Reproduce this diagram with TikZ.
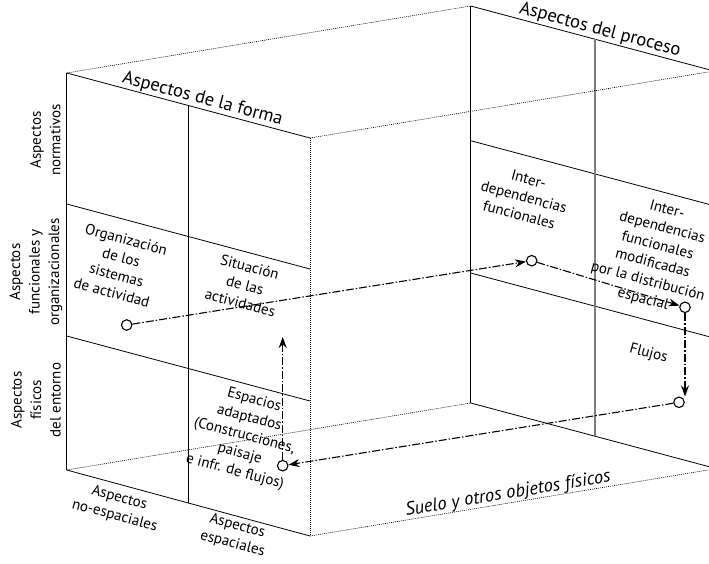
\documentclass[tikz,border=0pt]{standalone}
\usepackage{fontspec}
\setmainfont{PT Sans}
\definecolor{cbGray}{RGB}{125, 125, 125}
\usetikzlibrary{arrows.meta}
\tikzset{
  cubeedge/.style={line width=0.8pt, black},
  hiddenedge/.style={line width=0.6pt, black, dash pattern=on 1pt off 1pt},
  procline/.style={line width=1.2pt, cbGray},
  celltext/.style={font=\fontsize{15}{18.5}\selectfont, align=center, inner sep=0pt, rotate=-15},
  titletext/.style={font=\fontsize{18.5}{22}\selectfont, align=center, inner sep=0pt, rotate=#1},
  titletext/.default=-15,
  floortext/.style={font=\fontsize{18.5}{22}\selectfont\itshape, align=center, inner sep=0pt, rotate=9.4},
  rowtext/.style={font=\fontsize{15}{19.5}\selectfont, align=center, inner sep=0pt, rotate=90},
  marker/.style={circle, draw, line width=1.1pt, fill=white, minimum size=10.5pt, inner sep=0pt},
  flowarrow/.style={-{Stealth[length=11pt, width=8pt]}, line width=1.1pt, dash pattern=on 8pt off 2pt on 1.5pt off 2pt},
}

\begin{document}
\begin{tikzpicture}[x=1pt, y=-1pt]
  \useasboundingbox (0,0) rectangle (709,563);

  % Front face
  \draw[cubeedge] (66.7,73) -- (66.7,470);
  \draw[cubeedge] (66.7,73) -- (310,138);
  \draw[cubeedge] (66.7,204) -- (310,269);
  \draw[cubeedge] (66.7,336) -- (310,401);
  \draw[cubeedge] (66.7,470) -- (310,536);
  \draw[cubeedge] (188.7,105.6) -- (188.7,502.6);
  \draw[hiddenedge] (310,138) -- (310,536);

  % Back face
  \draw[cubeedge] (470.7,6) -- (470.7,403);
  \draw[cubeedge] (470.7,6) -- (714,71);
  \draw[cubeedge] (470.7,140.7) -- (714,205.7);
  \draw[cubeedge] (470.7,273) -- (714,338);
  \draw[cubeedge] (470.7,403) -- (714,468);
  \draw[procline] (595,39.2) -- (595,436.2);

  % Depth edges
  \draw[hiddenedge] (66.7,73) -- (470.7,6);
  \draw[hiddenedge] (310,138) -- (714,71);
  \draw[hiddenedge] (66.7,470) -- (470.7,403);
  \draw[hiddenedge] (310,536) -- (714,469);

  % Axis labels
  \node[titletext] (forma) at (202.5,99) {Aspectos de la forma};
  \node[titletext] (proceso) at (600,30) {Aspectos del proceso};
  \node[rowtext] (normativos) at (45.5,140) {Aspectos\\normativos};
  \node[rowtext] (funcionales) at (36,272) {Aspectos\\funcionales y\\organizacionales};
  \node[rowtext] (fisicos) at (36,400) {Aspectos\\físicos\\del entorno};
  \node[celltext] (noesp) at (117,507) {Aspectos\\no-espaciales};
  \node[celltext] (esp) at (235,535) {Aspectos\\espaciales};
  \node[floortext] (suelo) at (508,494) {Suelo y otros objetos físicos};

  % Cells
  \node[celltext] (organizacion) at (119,266) {Organización\\de los\\sistemas\\de actividad};
  \node[celltext] (situacion) at (245,285) {Situación\\de las\\actividades};
  \node[celltext] (espacios) at (244.5,436) {Espacios\\adaptados\\(Construcciones,\\paisaje\\e infr. de flujos)};
  \node[celltext] (interdep) at (524,197) {Inter-\\dependencias\\funcionales};
  \node[celltext] (interdepmod) at (655,255) {Inter-\\dependencias\\funcionales\\modificadas\\por la distribución\\espacial};
  \node[celltext] (flujos) at (648.5,354) {Flujos};

  % Flow
  \node[marker] (c1) at (126.7,325) {};
  \node[marker] (c2) at (531.7,260.7) {};
  \node[marker] (c3) at (685,307.3) {};
  \node[marker] (c4) at (679,402.3) {};
  \node[marker] (c5) at (282.7,465.7) {};
  \coordinate (up) at (282.7,337);

  \draw[flowarrow] (c1) -- (c2);
  \draw[flowarrow] (c2) -- (c3);
  \draw[flowarrow] (c3) -- (c3 |- c4.north);
  \draw[flowarrow] (c4) -- (c5);
  \draw[flowarrow] (c5) -- (up);
\end{tikzpicture}
\end{document}
